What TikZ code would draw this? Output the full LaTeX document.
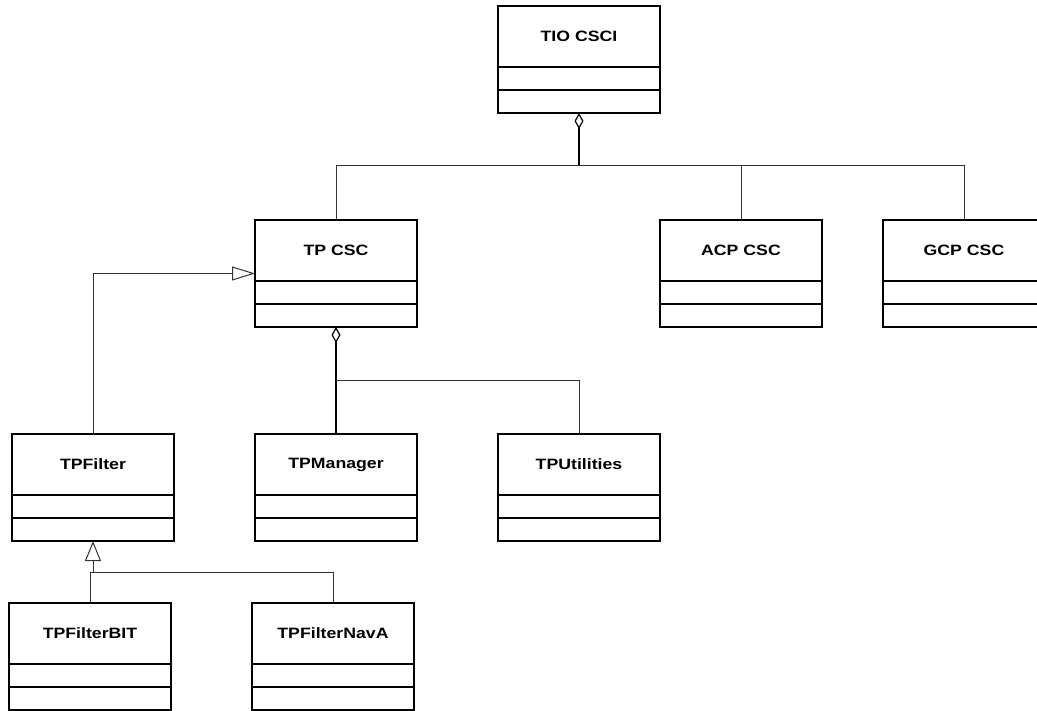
\documentclass[tikz,border=0pt]{standalone}
\usepackage{fontspec}
\newfontfamily\classfont{Liberation Sans}[FakeStretch=1.18]
\usetikzlibrary{arrows.meta}

\tikzset{
  classbox/.style={draw, line width=1.6pt, anchor=north west, minimum width=162pt,
    minimum height=107pt, inner sep=0pt, outer sep=0pt},
  boxline/.style={line width=1.6pt},
  classname/.style={font=\classfont\bfseries\fontsize{15}{18}\selectfont, inner sep=0pt},
  thinline/.style={line width=1pt, draw=black!80},
  stem/.style={line width=1.6pt, -{Diamond[open, length=16pt, width=9pt, line width=1.2pt]}},
  genarrow/.style={thinline, -{Triangle[open, length=23pt, width=14pt]}},
  genarrowv/.style={thinline, -{Triangle[open, length=20pt, width=16pt]}},
}

% a class box with a name compartment and two empty compartments
\newcommand\umlclass[4]{%
  \node[classbox] (#1) at (#2,#3) {};
  \draw[boxline] ([yshift=-61pt]#1.north west) -- ([yshift=-61pt]#1.north east);
  \draw[boxline] ([yshift=-84pt]#1.north west) -- ([yshift=-84pt]#1.north east);
  \node[classname] (#1-name) at ([yshift=-30.5pt]#1.north) {#4};
}

\begin{document}
\begin{tikzpicture}[x=1pt, y=-1pt]
  \clip (0,0) rectangle (1037,711);
  \fill[white] (0,0) rectangle (1037,711);

  \umlclass{tio}{498}{6}{TIO CSCI}
  \umlclass{tp}{255}{220}{TP CSC}
  \umlclass{acp}{660}{220}{ACP CSC}
  \umlclass{gcp}{883}{220}{GCP CSC}
  \umlclass{filter}{12}{434}{TPFilter}
  \umlclass{mgr}{255}{434}{TPManager}
  \umlclass{util}{498}{434}{TPUtilities}
  \umlclass{bit}{9}{603}{TPFilterBIT}
  \umlclass{nava}{252}{603}{TPFilterNavA}

  % TIO CSCI aggregates the three CSCs
  \coordinate (j0) at (tio.south |- 0,166);
  \draw[stem] (j0) -- (tio.south);
  \draw[thinline] (tp.north) |- (gcp.north |- j0) -- (gcp.north);
  \draw[thinline] (acp.north) -- (acp.north |- j0);

  % TP CSC aggregates its manager and utilities
  \coordinate (j1) at (tp.south |- 0,381);
  \draw[stem] (mgr.north) -- (tp.south);
  \draw[thinline] (j1) -| (util.north);

  % TPFilter generalizes to TP CSC
  \draw[genarrow] (filter.north) |- (tp.west);

  % filter specializations
  \coordinate (j2) at (filter.south |- 0,572);
  \draw[genarrowv] (j2) -- (filter.south);
  \draw[thinline] (bit.north) |- (nava.north |- j2) -- (nava.north);
\end{tikzpicture}
\end{document}
